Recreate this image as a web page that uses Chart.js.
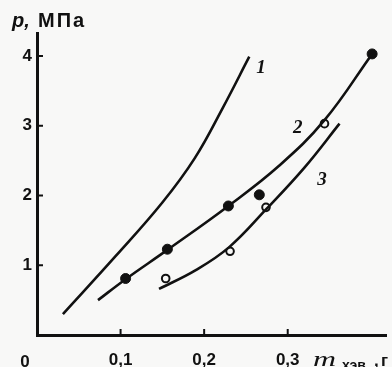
<!DOCTYPE html>
<html>
<head>
<meta charset="utf-8">
<script src="https://cdn.jsdelivr.net/npm/chart.js@4.4.1/dist/chart.umd.min.js"></script>
<style>
    html, body { margin: 0; padding: 0; background: #f8f8f7; }
    #wrap { width: 392px; height: 367px; position: relative; }
</style>
</head>
<body>
<div id="wrap"><canvas id="chart"></canvas></div>
<script>
// curves (x = mass, g; y = pressure, MPa)
var curve1X = [0.031, 0.094, 0.150, 0.189, 0.222, 0.254];
var curve1Y = [0.30, 1.13, 1.90, 2.54, 3.25, 3.99];

var curve2X = [0.073, 0.106, 0.156, 0.229, 0.290, 0.344, 0.401];
var curve2Y = [0.50, 0.80, 1.22, 1.85, 2.43, 3.08, 4.03];

var curve3X = [0.146, 0.190, 0.230, 0.274, 0.320, 0.362];
var curve3Y = [0.66, 0.93, 1.26, 1.80, 2.40, 3.03];

// measured points
var filledX = [0.106, 0.156, 0.229, 0.266, 0.401];
var filledY = [0.81, 1.23, 1.85, 2.01, 4.03];
var openX = [0.154, 0.231, 0.274, 0.344];
var openY = [0.81, 1.20, 1.83, 3.03];

// curve numbers
var curveLabels = ['1', '2', '3'];
var curveLabelX = [0.268, 0.312, 0.341];
var curveLabelY = [3.83, 2.97, 2.22];

var xTicks = [0.1, 0.2, 0.3];
var yTicks = [1, 2, 3, 4];

var INK = '#111';
var PAPER = '#f8f8f7';

function pts(xs, ys) {
    var out = [];
    for (var i = 0; i < xs.length; i++) {
        out.push({x: xs[i], y: ys[i]});
    }
    return out;
}

function curve(xs, ys) {
    return {
        data: pts(xs, ys),
        showLine: true,
        borderColor: INK,
        borderWidth: 2.6,
        pointRadius: 0,
        tension: 0.4,
        fill: false
    };
}

var decor = {
    id: 'decor',
    afterDraw: function (chart) {
        var ctx = chart.ctx;
        var xs = chart.scales.x;
        var ys = chart.scales.y;
        var area = chart.chartArea;
        ctx.save();
        ctx.strokeStyle = INK;
        ctx.lineWidth = 2;
        // inward tick marks
        yTicks.forEach(function (v) {
            var py = ys.getPixelForValue(v);
            ctx.beginPath();
            ctx.moveTo(area.left, py);
            ctx.lineTo(area.left + 6, py);
            ctx.stroke();
        });
        xTicks.forEach(function (v) {
            var px = xs.getPixelForValue(v);
            ctx.beginPath();
            ctx.moveTo(px, area.bottom);
            ctx.lineTo(px, area.bottom - 6);
            ctx.stroke();
        });

        ctx.fillStyle = INK;
        ctx.textBaseline = 'alphabetic';

        // origin
        ctx.font = 'bold 17px "Liberation Sans"';
        ctx.textAlign = 'center';
        ctx.fillText('0', 25, 367);

        // y title
        ctx.textAlign = 'left';
        ctx.font = 'italic bold 20px "Liberation Sans"';
        ctx.fillText('p,', 12, 27);
        ctx.font = 'bold 20px "Liberation Sans"';
        ctx.letterSpacing = '2px';
        ctx.fillText('МПа', 38, 27);
        ctx.letterSpacing = '0px';

        // x title
        ctx.save();
        ctx.translate(313, 366);
        ctx.scale(1.45, 1);
        ctx.font = 'italic 22px "Liberation Serif"';
        ctx.fillText('m', 0, 0);
        ctx.restore();
        ctx.font = 'bold 14px "Liberation Sans"';
        ctx.fillText('хэв', 342, 370);
        ctx.font = 'bold 17px "Liberation Sans"';
        ctx.fillText(',', 374, 366);
        ctx.fillText('г', 381, 366);

        // curve numbers
        ctx.font = 'italic bold 19px "Liberation Serif"';
        ctx.textAlign = 'center';
        ctx.textBaseline = 'middle';
        for (var i = 0; i < curveLabels.length; i++) {
            ctx.fillText(curveLabels[i], xs.getPixelForValue(curveLabelX[i]), ys.getPixelForValue(curveLabelY[i]));
        }
        ctx.restore();
    }
};

new Chart(document.getElementById('chart'), {
    type: 'scatter',
    data: {
        datasets: [
            curve(curve1X, curve1Y),
            curve(curve2X, curve2Y),
            curve(curve3X, curve3Y),
            {
                data: pts(filledX, filledY),
                pointRadius: 5,
                pointBackgroundColor: INK,
                pointBorderColor: INK,
                pointBorderWidth: 1
            },
            {
                data: pts(openX, openY),
                pointRadius: 3.8,
                pointBackgroundColor: PAPER,
                pointBorderColor: INK,
                pointBorderWidth: 2
            }
        ]
    },
    options: {
        responsive: true,
        maintainAspectRatio: false,
        animation: false,
        layout: {
            padding: {top: 33, right: 0, left: 0, bottom: 0}
        },
        plugins: {
            legend: {display: false},
            tooltip: {enabled: false}
        },
        scales: {
            x: {
                type: 'linear',
                min: 0,
                max: 0.4176,
                afterBuildTicks: function (s) {
                    s.ticks = xTicks.map(function (v) { return {value: v}; });
                },
                afterFit: function (s) { s.height = 32; },
                grid: {display: true, drawOnChartArea: false, drawTicks: false},
                border: {display: true, color: INK, width: 3},
                ticks: {
                    color: INK,
                    padding: 15,
                    maxRotation: 0,
                    font: {family: 'Liberation Sans', size: 17, weight: 'bold'},
                    callback: function (v) { return v.toFixed(1).replace('.', ','); }
                }
            },
            y: {
                type: 'linear',
                min: 0,
                max: 4.33,
                afterBuildTicks: function (s) {
                    s.ticks = yTicks.map(function (v) { return {value: v}; });
                },
                afterFit: function (s) { s.width = 37; },
                grid: {display: true, drawOnChartArea: false, drawTicks: false},
                border: {display: true, color: INK, width: 3},
                ticks: {
                    color: INK,
                    padding: 5,
                    font: {family: 'Liberation Sans', size: 17, weight: 'bold'}
                }
            }
        }
    },
    plugins: [decor]
});
</script>
</body>
</html>
